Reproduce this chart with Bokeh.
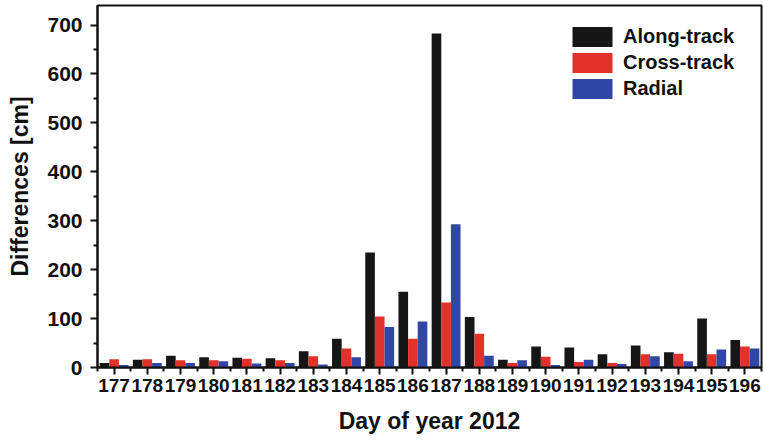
from bokeh.plotting import figure
from bokeh.models import ColumnDataSource, FixedTicker, Legend, LegendItem, Range1d
from bokeh.embed import file_html
from bokeh.resources import INLINE

# Orbit differences per day (cm)
days = list(range(177, 197))
along_track = [9, 16, 24, 21, 20, 19, 33, 59, 235, 155, 683, 103, 16, 43, 41, 27, 45, 31, 100, 56]
cross_track = [17, 17, 15, 15, 18, 15, 23, 39, 104, 59, 133, 69, 9, 22, 11, 9, 27, 28, 27, 43]
radial = [5, 9, 9, 13, 8, 9, 6, 21, 83, 94, 293, 24, 15, 5, 16, 7, 23, 13, 37, 39]
y_ticks = [0, 100, 200, 300, 400, 500, 600, 700]

series = [
    ("Along-track", along_track, "#161616", -0.29),
    ("Cross-track", cross_track, "#e1312a", 0.0),
    ("Radial", radial, "#3047a6", 0.29),
]

FONT = "Liberation Sans"

p = figure(
    width=764, height=440,
    x_range=Range1d(176.5, 196.5), y_range=Range1d(0, 740),
    output_backend="svg", toolbar_location=None,
    min_border_left=97, min_border_right=3, min_border_top=5, min_border_bottom=73,
)
p.grid.visible = False
p.background_fill_color = "white"
p.border_fill_color = "white"
p.outline_line_color = "#111111"
p.outline_line_width = 2

items = []
for name, vals, color, off in series:
    src = ColumnDataSource(dict(x=[d + off for d in days], top=vals))
    r = p.vbar(x="x", top="top", width=0.29, bottom=0, source=src,
               fill_color=color, line_color=None)
    items.append(LegendItem(label=name, renderers=[r]))

legend = Legend(items=items, location=(470, 266))
legend.glyph_width = 50
legend.glyph_height = 25
legend.label_height = 25
legend.spacing = 1
legend.padding = 0
legend.margin = 0
legend.label_standoff = 6
legend.border_line_color = None
legend.background_fill_alpha = 0
legend.label_text_font = FONT
legend.label_text_font_style = "bold"
legend.label_text_font_size = "20px"
legend.label_text_color = "#111111"
p.add_layout(legend, "center")

for ax in (p.xaxis[0], p.yaxis[0]):
    ax.axis_line_width = 2
    ax.axis_line_color = "#111111"
    ax.major_tick_line_width = 2
    ax.minor_tick_line_width = 2
    ax.major_tick_line_color = "#111111"
    ax.minor_tick_line_color = "#111111"
    ax.major_tick_out = 7
    ax.major_tick_in = 0
    ax.minor_tick_out = 4
    ax.minor_tick_in = 0
    ax.major_label_text_font = FONT
    ax.major_label_text_font_style = "bold"
    ax.major_label_text_color = "#111111"
    ax.axis_label_text_font = FONT
    ax.axis_label_text_font_style = "bold"
    ax.axis_label_text_font_size = "23px"
    ax.axis_label_text_color = "#111111"

p.xaxis.major_label_text_font_size = "19px"
p.yaxis.major_label_text_font_size = "21px"
p.xaxis.ticker = FixedTicker(ticks=days, minor_ticks=[d + 0.5 for d in range(176, 197)])
p.yaxis.ticker = FixedTicker(ticks=y_ticks, minor_ticks=[v + 50 for v in y_ticks])
p.xaxis.axis_label = "Day of year 2012"
p.yaxis.axis_label = "Differences [cm]"
p.xaxis.major_label_standoff = 4
p.yaxis.major_label_standoff = 8
p.xaxis.axis_label_standoff = 13
p.yaxis.axis_label_standoff = 11

open("out.html", "w").write(file_html(p, INLINE))
